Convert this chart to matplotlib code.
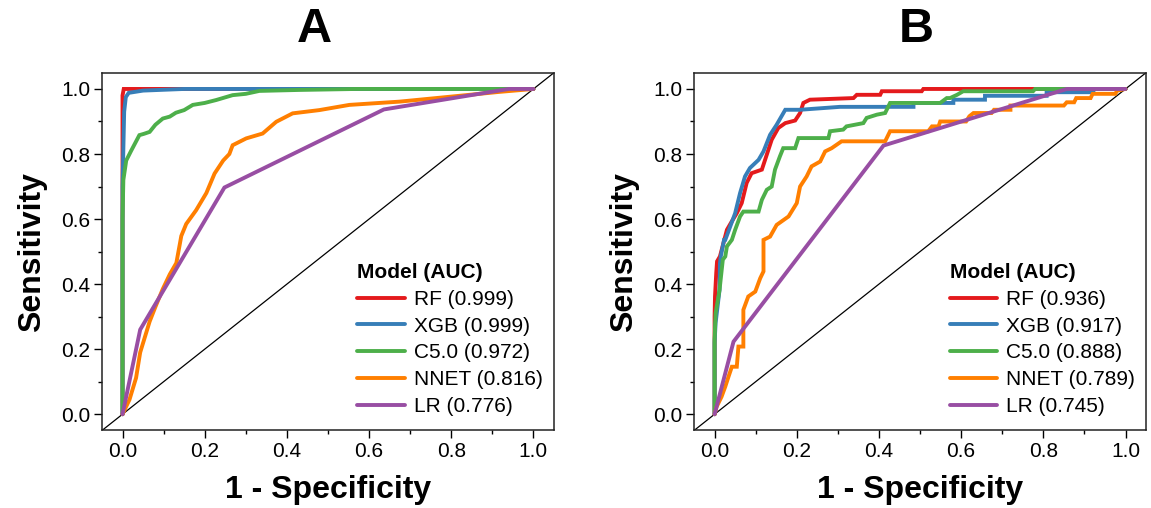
import matplotlib
matplotlib.use("Agg")
import matplotlib.pyplot as plt
from matplotlib.ticker import MultipleLocator

plt.rcParams['font.family'] = ['Liberation Sans', 'DejaVu Sans']

# Modele i kolory
models = ['RF', 'XGB', 'C5.0', 'NNET', 'LR']
colors = ['#E41A1C', '#377EB8', '#4DAF4A', '#FF7F00', '#984EA3']
auc_a = ['0.999', '0.999', '0.972', '0.816', '0.776']
auc_b = ['0.936', '0.917', '0.888', '0.789', '0.745']

# Panel A - krzywe ROC (1 - specyficznosc, czulosc)
rf_a_fpr = [0, 0, 0.003, 1]
rf_a_tpr = [0, 0.98, 1, 1]
xgb_a_fpr = [0, 0, 0.004, 0.008, 0.015, 0.05, 0.15, 1]
xgb_a_tpr = [0, 0.7, 0.93, 0.975, 0.988, 0.995, 1, 1]
c50_a_fpr = [0, 0, 0.002, 0.009, 0.021, 0.041, 0.052, 0.066, 0.08, 0.098, 0.115, 0.13,
             0.15, 0.171, 0.2, 0.228, 0.268, 0.3, 0.333, 0.43, 0.57, 1]
c50_a_tpr = [0, 0.6, 0.72, 0.78, 0.81, 0.858, 0.862, 0.868, 0.89, 0.909, 0.915, 0.927,
             0.935, 0.951, 0.957, 0.966, 0.981, 0.985, 0.994, 0.997, 1, 1]
nnet_a_fpr = [0, 0.017, 0.033, 0.043, 0.066, 0.08, 0.098, 0.115, 0.131, 0.139, 0.143, 0.155,
              0.179, 0.204, 0.224, 0.245, 0.26, 0.268, 0.301, 0.341, 0.374, 0.414, 0.479,
              0.552, 0.674, 0.796, 0.917, 1]
nnet_a_tpr = [0, 0.045, 0.112, 0.19, 0.285, 0.33, 0.385, 0.43, 0.465, 0.52, 0.548, 0.585,
              0.627, 0.68, 0.74, 0.78, 0.80, 0.827, 0.848, 0.863, 0.899, 0.925, 0.935,
              0.951, 0.961, 0.976, 0.991, 1]
lr_a_fpr = [0, 0.043, 0.248, 0.636, 0.94, 1]
lr_a_tpr = [0, 0.26, 0.697, 0.937, 1.0, 1]

# Panel B
rf_b_fpr = [0, 0, 0.001, 0.004, 0.006, 0.013, 0.030, 0.042, 0.054, 0.066, 0.078, 0.090,
            0.115, 0.127, 0.139, 0.155, 0.172, 0.196, 0.208, 0.216, 0.232, 0.338, 0.346,
            0.403, 0.407, 0.504, 0.508, 1]
rf_b_tpr = [0, 0.30, 0.362, 0.434, 0.47, 0.485, 0.567, 0.593, 0.618, 0.649, 0.711, 0.741,
            0.752, 0.798, 0.844, 0.88, 0.895, 0.903, 0.926, 0.957, 0.967, 0.972, 0.982,
            0.982, 0.993, 0.993, 1.0, 1]
xgb_b_fpr = [0, 0, 0.0024, 0.012, 0.013, 0.015, 0.023, 0.026, 0.038, 0.050, 0.062, 0.074,
             0.086, 0.107, 0.119, 0.135, 0.151, 0.172, 0.208, 0.305, 0.484, 0.484, 0.581,
             0.581, 0.658, 0.658, 0.808, 0.808, 0.922, 0.922, 1]
xgb_b_tpr = [0, 0.22, 0.28, 0.382, 0.464, 0.485, 0.536, 0.536, 0.577, 0.618, 0.68, 0.731,
             0.757, 0.782, 0.808, 0.859, 0.89, 0.936, 0.936, 0.945, 0.945, 0.957, 0.957,
             0.967, 0.967, 0.979, 0.979, 0.99, 0.99, 1.0, 1]
c50_b_fpr = [0, 0, 0.0024, 0.012, 0.02, 0.026, 0.030, 0.042, 0.050, 0.062, 0.070, 0.107,
             0.115, 0.127, 0.139, 0.147, 0.159, 0.167, 0.196, 0.204, 0.277, 0.281, 0.313,
             0.321, 0.362, 0.370, 0.395, 0.415, 0.427, 0.549, 0.565, 0.573, 0.59, 0.605,
             0.775, 0.78, 1]
c50_b_tpr = [0, 0.23, 0.31, 0.382, 0.475, 0.485, 0.516, 0.536, 0.567, 0.608, 0.623, 0.623,
             0.659, 0.69, 0.70, 0.752, 0.793, 0.818, 0.818, 0.849, 0.849, 0.87, 0.875,
             0.885, 0.895, 0.911, 0.921, 0.926, 0.957, 0.957, 0.972, 0.972, 0.982, 0.993,
             0.993, 1.0, 1]
nnet_b_fpr = [0, 0.005, 0.017, 0.026, 0.034, 0.042, 0.054, 0.058, 0.070, 0.070, 0.082, 0.099,
              0.111, 0.119, 0.119, 0.135, 0.151, 0.180, 0.200, 0.208, 0.224, 0.236, 0.257,
              0.269, 0.285, 0.309, 0.415, 0.427, 0.520, 0.529, 0.545, 0.549, 0.612, 0.62,
              0.63, 0.674, 0.68, 0.72, 0.72, 0.85, 0.857, 0.875, 0.88, 0.915, 0.92, 0.975,
              0.98, 1]
nnet_b_tpr = [0, 0.023, 0.054, 0.085, 0.116, 0.146, 0.146, 0.208, 0.208, 0.321, 0.362, 0.377,
              0.418, 0.439, 0.536, 0.546, 0.582, 0.608, 0.649, 0.70, 0.731, 0.762, 0.777,
              0.808, 0.818, 0.839, 0.839, 0.87, 0.87, 0.885, 0.885, 0.90, 0.90, 0.916,
              0.926, 0.926, 0.936, 0.936, 0.949, 0.949, 0.959, 0.959, 0.972, 0.972, 0.985,
              0.985, 0.995, 1]
lr_b_fpr = [0, 0.046, 0.411, 0.857, 1]
lr_b_tpr = [0, 0.223, 0.826, 1.0, 1]

curves_a = [(rf_a_fpr, rf_a_tpr), (xgb_a_fpr, xgb_a_tpr), (c50_a_fpr, c50_a_tpr),
            (nnet_a_fpr, nnet_a_tpr), (lr_a_fpr, lr_a_tpr)]
curves_b = [(rf_b_fpr, rf_b_tpr), (xgb_b_fpr, xgb_b_tpr), (c50_b_fpr, c50_b_tpr),
            (nnet_b_fpr, nnet_b_tpr), (lr_b_fpr, lr_b_tpr)]

fig = plt.figure(figsize=(11.51, 5.08), dpi=100)
ax_a = fig.add_axes([0.0886, 0.1526, 0.3927, 0.7043])
ax_b = fig.add_axes([0.6030, 0.1526, 0.3927, 0.7043])


def draw_panel(ax, curves, aucs):
    ax.plot([-0.05, 1.05], [-0.05, 1.05], color='black', lw=0.9, zorder=1)
    for (fpr, tpr), name, auc, col in zip(curves, models, aucs, colors):
        ax.plot(fpr, tpr, color=col, lw=2.8, label=f"{name} ({auc})",
                solid_capstyle='round', solid_joinstyle='miter', zorder=2)
    ax.set_xlim(-0.05, 1.05)
    ax.set_ylim(-0.05, 1.05)
    ax.xaxis.set_major_locator(MultipleLocator(0.2))
    ax.yaxis.set_major_locator(MultipleLocator(0.2))
    ax.xaxis.set_minor_locator(MultipleLocator(0.1))
    ax.yaxis.set_minor_locator(MultipleLocator(0.1))
    ax.tick_params(which='major', direction='out', length=5.5, width=1, labelsize=15, pad=3)
    ax.tick_params(which='minor', direction='out', length=3, width=1)
    for s in ax.spines.values():
        s.set_linewidth(1.1)
        s.set_color('#222222')
    ax.set_xlabel('1 - Specificity', fontsize=23, fontweight='bold', labelpad=10)
    ax.set_ylabel('Sensitivity', fontsize=23, fontweight='bold', labelpad=10)
    leg = ax.legend(title='Model (AUC)', loc='lower right', bbox_to_anchor=(1.007, 0.0),
                    frameon=False, fontsize=15, handlelength=2.3, handletextpad=0.4,
                    labelspacing=0.37, alignment='left', borderaxespad=0.3)
    leg.get_title().set_fontweight('bold')
    leg.get_title().set_fontsize(15)


draw_panel(ax_a, curves_a, auc_a)
draw_panel(ax_b, curves_b, auc_b)

fig.text(314 / 1151, 1 - 30 / 508, 'A', fontsize=35, fontweight='bold', ha='center', va='center')
fig.text(916 / 1151, 1 - 30 / 508, 'B', fontsize=35, fontweight='bold', ha='center', va='center')

fig.savefig('out.png', dpi=100)
